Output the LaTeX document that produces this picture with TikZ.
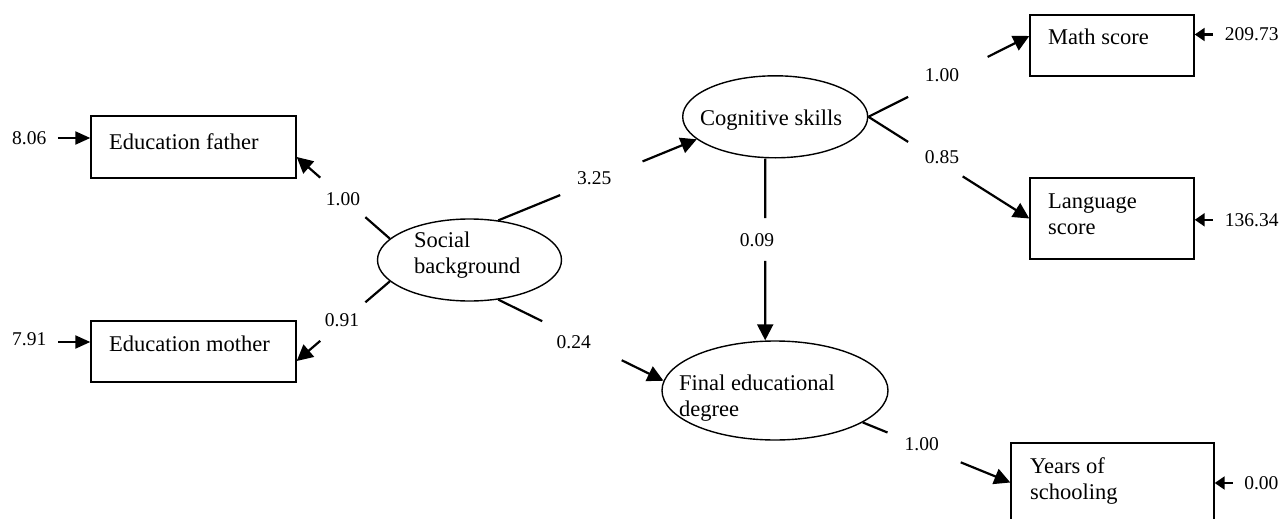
\documentclass[tikz,border=0pt]{standalone}
\usepackage{fontspec}
\setmainfont{Liberation Serif}
\usetikzlibrary{arrows.meta,shapes.geometric,calc}
\begin{document}
\begin{tikzpicture}[x=1pt,y=-1pt,
  box/.style={draw,line width=1.4pt,inner sep=0pt,rectangle},
  latent/.style={draw,line width=1.4pt,inner sep=0pt,ellipse},
  txt/.style={font=\fontsize{22.5}{25.5}\selectfont,inner sep=0pt,align=left,anchor=base west},
  num/.style={font=\fontsize{19.5}{22}\selectfont,inner sep=0pt},
  conn/.style={line width=2.2pt},
  arr/.style={conn,-{Triangle[length=16pt,width=16pt]}},
  resl/.style={line width=2.2pt,-{Triangle[length=15pt,width=13pt]}},
  resr/.style={line width=2.2pt,-{Triangle[length=10pt,width=13pt]}}]
\clip (0,0) rectangle (1283,519);
\fill[white] (0,0) rectangle (1283,519);
% observed variables
\node[box,minimum width=205pt,minimum height=62pt] (ef) at (193.5,147) {};
\node[box,minimum width=205pt,minimum height=61pt] (em) at (193.5,351.5) {};
\node[box,minimum width=164pt,minimum height=61pt] (ms) at (1112,45.5) {};
\node[box,minimum width=164pt,minimum height=81pt] (ls) at (1112,218.5) {};
\node[box,minimum width=203pt,minimum height=79pt] (ys) at (1112.5,482.5) {};
% latent variables
\node[latent,minimum width=184pt,minimum height=82pt] (sb) at (469.5,260) {};
\node[latent,minimum width=185pt,minimum height=82pt] (cs) at (775.2,116.8) {};
\node[latent,minimum width=226pt,minimum height=99pt] (fd) at (775,390.5) {};
% texts (base = baseline of the last line)
\node[txt] (tef) at (109,149) {Education father};
\node[txt] (tem) at (109,351) {Education mother};
\node[txt] (tms) at (1048,45) {Math score};
\node[txt] (tls) at (1048,234) {Language\\score};
\node[txt] (tys) at (1030,499.3) {Years of\\schooling};
\node[txt] (tsb) at (414,273.3) {Social\\background};
\node[txt] (tcs) at (700,125.5) {Cognitive skills};
\node[txt] (tfd) at (679,416) {Final educational\\degree};
% coefficient labels
\node[num] (n1) at (343,199) {1.00};
\node[num] (n2) at (342,320) {0.91};
\node[num] (n3) at (594.3,178.3) {3.25};
\node[num] (n4) at (573.7,341.7) {0.24};
\node[num] (n5) at (757,240) {0.09};
\node[num] (n6) at (942,75.5) {1.00};
\node[num] (n7) at (942,157.5) {0.85};
\node[num] (n8) at (921.7,444.5) {1.00};
% residual labels
\node[num] (r806) at (29.2,138) {8.06};
\node[num] (r791) at (29.2,339) {7.91};
\node[num] (r1) at (1251.7,34.5) {209.73};
\node[num] (r2) at (1251.7,219.8) {136.34};
\node[num] (r3) at (1261.3,483) {0.00};
% connector end points
\coordinate (efin) at ($(ef.east)+(0,10)$);
\coordinate (emin) at ($(em.east)+(0,9.5)$);
\coordinate (msin) at ($(ms.west)+(0,-9.5)$);
\coordinate (csb) at ($(cs.south)+(-10,0)$);
\coordinate (fdt) at (csb |- fd.north);
% connectors (with gap for label)
\draw[conn] (sb.165) -- ($(sb.165)!0.263!(efin)$);
\draw[arr] ($(sb.165)!0.747!(efin)$) -- (efin);
\draw[conn] (sb.195) -- ($(sb.195)!0.263!(emin)$);
\draw[arr] ($(sb.195)!0.747!(emin)$) -- (emin);
\draw[conn] (sb.54) -- ($(sb.54)!0.312!(cs.196)$);
\draw[arr] ($(sb.54)!0.727!(cs.196)$) -- (cs.196);
\draw[conn] (sb.306) -- ($(sb.306)!0.266!(fd.175)$);
\draw[arr] ($(sb.306)!0.747!(fd.175)$) -- (fd.175);
\draw[conn] (csb) -- ($(csb)!0.328!(fdt)$);
\draw[arr] ($(csb)!0.563!(fdt)$) -- (fdt);
\draw[conn] (cs.east) -- ($(cs.east)!0.247!(msin)$);
\draw[arr] ($(cs.east)!0.741!(msin)$) -- (msin);
\draw[conn] (cs.east) -- ($(cs.east)!0.247!(ls.west)$);
\draw[arr] ($(cs.east)!0.586!(ls.west)$) -- (ls.west);
\draw[conn] (fd.340) -- ($(fd.340)!0.168!(ys.west)$);
\draw[arr] ($(fd.340)!0.664!(ys.west)$) -- (ys.west);
% residual arrows
\coordinate (efr) at ($(ef.west)+(0,-9)$);
\coordinate (emr) at ($(em.west)+(0,-9.5)$);
\draw[resl,shorten <=11.5pt] (r806.east |- efr) -- (efr);
\draw[resl,shorten <=11.8pt] (r791.east |- emr) -- (emr);
\draw[resr,shorten <=12pt] (r1.west) -- (r1.west -| ms.east);
\draw[resr,shorten <=12pt] (r2.west) -- (r2.west -| ls.east);
\draw[resr,shorten <=11.3pt] (r3.west) -- (r3.west -| ys.east);
\end{tikzpicture}
\end{document}
